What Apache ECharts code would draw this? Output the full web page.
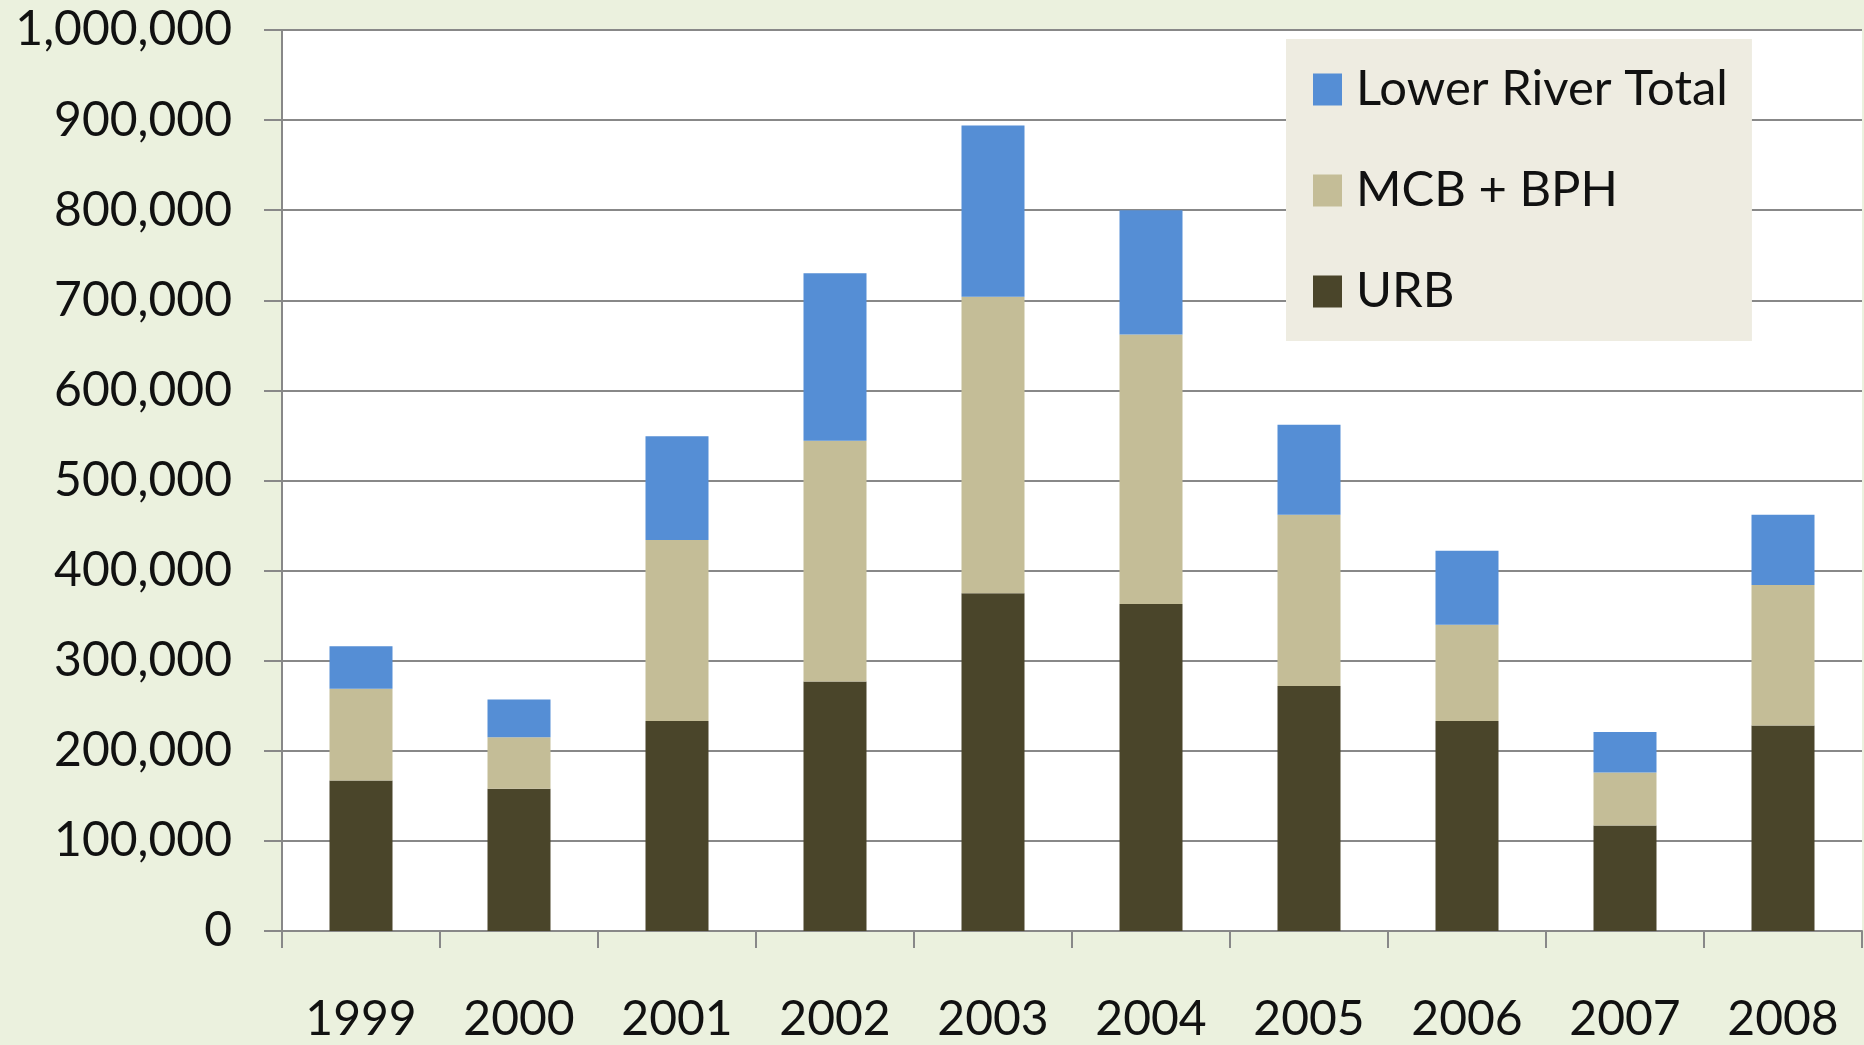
<!DOCTYPE html>
<html>
<head>
<meta charset="utf-8">
<script src="https://cdn.jsdelivr.net/npm/echarts@6/dist/echarts.min.js"></script>
<style>
html,body{margin:0;padding:0;background:#EBF1DE;}
#chart{width:1864px;height:1045px;}
</style>
</head>
<body>
<div id="chart"></div>
<script>
const years = ['1999','2000','2001','2002','2003','2004','2005','2006','2007','2008'];
const urb = [167000, 158000, 233000, 277000, 375000, 363000, 272000, 233000, 117000, 228000];
const mcbBph = [102000, 57000, 201000, 267000, 329000, 299000, 190000, 107000, 59000, 156000];
const lowerRiverTotal = [47000, 42000, 115000, 186000, 190000, 138000, 100000, 82000, 45000, 78000];
const legendNames = ['Lower River Total', 'MCB + BPH', 'URB'];

const FONT = 'Lato';
const chart = echarts.init(document.getElementById('chart'), null, {renderer: 'canvas'});
const gridColor = '#888888';
chart.setOption({
  backgroundColor: '#EBF1DE',
  animation: false,
  textStyle: {fontFamily: FONT},
  grid: {left: 282, right: 2, top: 30, bottom: 114, show: true, backgroundColor: '#ffffff', borderWidth: 0},
  legend: {
    data: legendNames,
    orient: 'vertical',
    left: 1286,
    top: 39,
    padding: [26, 24, 25, 27],
    backgroundColor: '#EEECE1',
    itemWidth: 29,
    itemHeight: 32,
    itemGap: 52,
    icon: 'rect',
    textStyle: {fontFamily: FONT, fontSize: 49, color: '#111111', lineHeight: 46, padding: [0, 0, 0, 9]}
  },
  xAxis: {
    type: 'category',
    data: years,
    boundaryGap: true,
    axisLine: {show: true, lineStyle: {color: gridColor, width: 2}},
    axisTick: {show: true, length: 17, lineStyle: {color: gridColor, width: 2}},
    axisLabel: {fontFamily: FONT, fontSize: 48, color: '#111111', margin: 65, lineHeight: 48}
  },
  yAxis: {
    type: 'value',
    min: 0,
    max: 1000000,
    interval: 100000,
    axisLine: {show: true, lineStyle: {color: gridColor, width: 2}},
    axisTick: {show: true, length: 18, lineStyle: {color: gridColor, width: 2}},
    splitLine: {show: true, lineStyle: {color: gridColor, width: 2}},
    axisLabel: {
      fontFamily: FONT, fontSize: 48, color: '#111111', margin: 50,
      formatter: v => v.toLocaleString('en-US')
    }
  },
  series: [
    {name: 'URB', type: 'bar', stack: 'total', data: urb, barWidth: 63, itemStyle: {color: '#4A452A'}},
    {name: 'MCB + BPH', type: 'bar', stack: 'total', data: mcbBph, barWidth: 63, itemStyle: {color: '#C4BD97'}},
    {name: 'Lower River Total', type: 'bar', stack: 'total', data: lowerRiverTotal, barWidth: 63, itemStyle: {color: '#558ED5'}}
  ]
});
</script>
</body>
</html>
